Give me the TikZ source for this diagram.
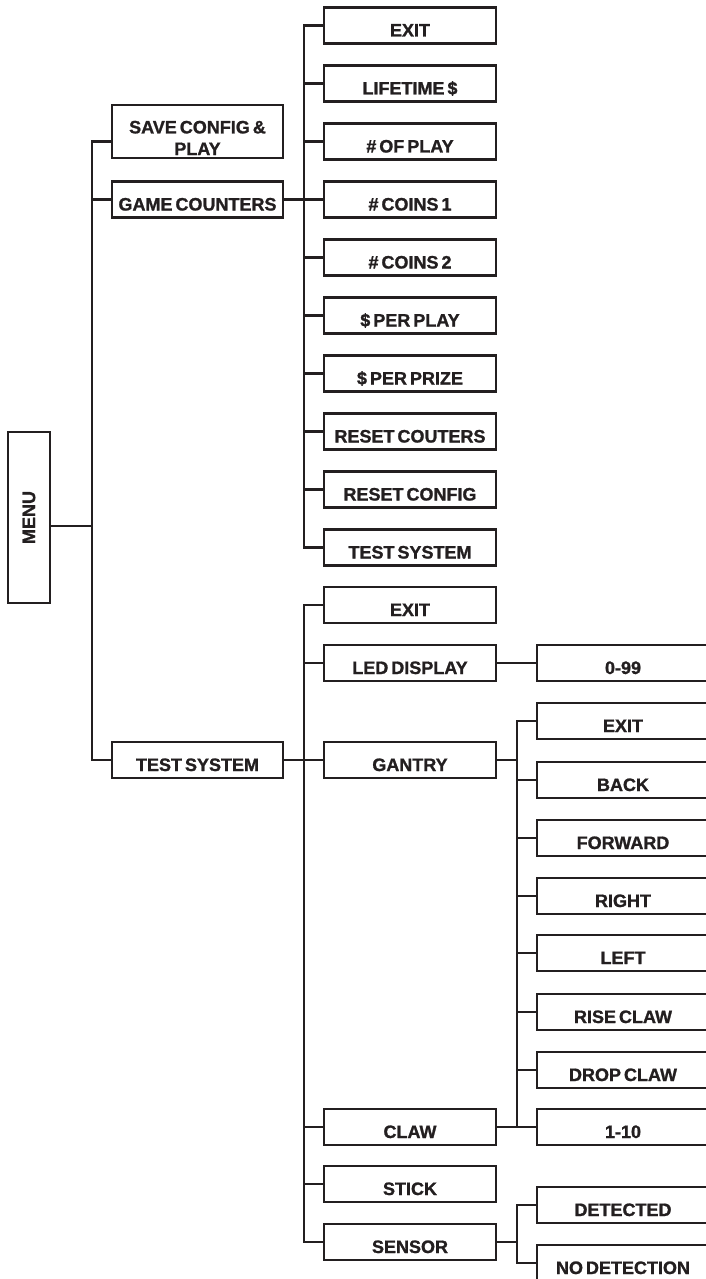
\documentclass[tikz,border=0pt]{standalone}
\usepackage{fontspec}
\usepackage{graphicx}
\setmainfont{Liberation Sans}[WordSpace=0.6, BoldFeatures={FakeBold=1.2}]
\definecolor{ink}{RGB}{35,31,32}
\begin{document}
\begin{tikzpicture}[x=1pt,y=-1pt,
  base/.style={draw=ink, line width=2.2pt, text=ink, font=\fontsize{18}{21.6}\selectfont\bfseries, inner sep=0pt},
  box/.style={base, minimum width=172pt, minimum height=36pt, text height=22pt, text depth=0pt},
  lbox/.style={base, minimum width=171pt, minimum height=36pt, text height=22pt, text depth=0pt},
  conn/.style={draw=ink, line width=2.2pt}]
\useasboundingbox (0,0) rectangle (706,1279);
\clip (0,0) rectangle (706,1279);
% level 0
\node[base, minimum width=42pt, minimum height=171pt] (menu) at (29,517.5) {\rotatebox{90}{MENU}};
% level 1
\node[base, minimum width=171pt, minimum height=53pt, align=center, text height=47.2pt, text depth=0pt] (save) at (197.5,131.4) {SAVE CONFIG \&\\PLAY};
\node[lbox] (game) at (197.5,199.5) {GAME COUNTERS};
\node[lbox] (tsys) at (197.5,760) {TEST SYSTEM};
% game counters children
\node[box] (gc1) at (410,25.5) {EXIT};
\node[box] (gc2) at (410,83.5) {LIFETIME \$};
\node[box] (gc3) at (410,141.5) {\# OF PLAY};
\node[box] (gc4) at (410,199.5) {\# COINS 1};
\node[box] (gc5) at (410,257.5) {\# COINS 2};
\node[box] (gc6) at (410,315.5) {\$ PER PLAY};
\node[box] (gc7) at (410,373.5) {\$ PER PRIZE};
\node[box] (gc8) at (410,431.5) {RESET COUTERS};
\node[box] (gc9) at (410,489.5) {RESET CONFIG};
\node[box] (gc10) at (410,547.5) {TEST SYSTEM};
% test system children
\node[box] (ts1) at (410,605) {EXIT};
\node[box] (ts2) at (410,663) {LED DISPLAY};
\node[box] (ts3) at (410,760) {GANTRY};
\node[box] (ts4) at (410,1127) {CLAW};
\node[box] (ts5) at (410,1184) {STICK};
\node[box] (ts6) at (410,1242) {SENSOR};
% level 3
\node[box] (num) at (623,663) {0-99};
\node[box] (g1) at (623,721) {EXIT};
\node[box] (g2) at (623,780) {BACK};
\node[box] (g3) at (623,838) {FORWARD};
\node[box] (g4) at (623,896) {RIGHT};
\node[box] (g5) at (623,953) {LEFT};
\node[box] (g6) at (623,1012) {RISE CLAW};
\node[box] (g7) at (623,1070) {DROP CLAW};
\node[box] (g8) at (623,1127) {1-10};
\node[box] (s1) at (623,1205) {DETECTED};
\node[box] (s2) at (623,1263) {NO DETECTION};
% connectors level 0-1
\draw[conn] ([yshift=-8.5pt]menu.east) -- ++(41,0);
\draw[conn] ([yshift=-10pt]save.west) -- ++(-19,0) |- (tsys.west);
\draw[conn] (game.west) -- ++(-19,0);
% game counters
\draw[conn] (game.east) -- ++(20,0);
\draw[conn] (gc1.west) -- ++(-19,0) |- (gc10.west);
\foreach \n in {gc2,gc3,gc4,gc5,gc6,gc7,gc8,gc9} \draw[conn] (\n.west) -- ++(-19,0);
% test system
\draw[conn] (tsys.east) -- ++(20,0);
\draw[conn] (ts1.west) -- ++(-19,0) |- (ts6.west);
\foreach \n in {ts2,ts3,ts4,ts5} \draw[conn] (\n.west) -- ++(-19,0);
\draw[conn] (ts2.east) -- (num.west);
% gantry
\draw[conn] (ts3.east) -- ++(20,0);
\draw[conn] (ts4.east) -- ++(20,0);
\draw[conn] (g1.west) -- ++(-19,0) |- (g8.west);
\foreach \n in {g2,g3,g4,g5,g6,g7} \draw[conn] (\n.west) -- ++(-19,0);
% sensor
\draw[conn] (ts6.east) -- ++(20,0);
\draw[conn] (s1.west) -- ++(-19,0) |- (s2.west);
\end{tikzpicture}
\end{document}
